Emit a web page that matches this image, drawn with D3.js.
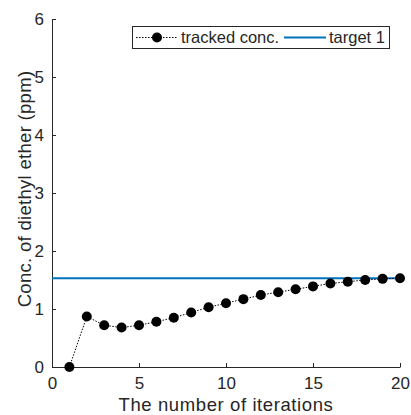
<!DOCTYPE html>
<html>
<head>
<meta charset="utf-8">
<script src="https://cdn.jsdelivr.net/npm/d3@7"></script>
<style>
  body { margin: 0; background: #fff; }
  svg text { font-family: "Liberation Sans", Arial, sans-serif; fill: #262626; }
</style>
</head>
<body>
<svg id="chart" width="411" height="415"></svg>
<script>
// Tracked concentration per iteration
const iterations = [1, 2, 3, 4, 5, 6, 7, 8, 9, 10, 11, 12, 13, 14, 15, 16, 17, 18, 19, 20];
const trackedConc = [0, 0.87, 0.72, 0.68, 0.72, 0.78, 0.85, 0.94, 1.03, 1.10,
                     1.17, 1.24, 1.29, 1.34, 1.39, 1.44, 1.47, 1.50, 1.52, 1.53];
const targetValue = 1.53;
const xTicks = [0, 5, 10, 15, 20];
const yTicks = [0, 1, 2, 3, 4, 5, 6];
const legendLabels = ["tracked conc.", "target 1"];

const svg = d3.select("#chart");
const margin = { left: 52, right: 11, top: 19, bottom: 48 };
const W = 411, H = 415;
const fontFamily = '"Liberation Sans", Arial, sans-serif';

const x = d3.scaleLinear().domain([0, 20]).range([margin.left, W - margin.right]);
const y = d3.scaleLinear().domain([0, 6]).range([H - margin.bottom, margin.top]);

const axisColor = "#262626";
const fmt = d3.format("d");

// Axes with inward ticks
const xAxis = d3.axisBottom(x).tickValues(xTicks).tickFormat(fmt)
  .tickSizeInner(-4).tickSizeOuter(0).tickPadding(10);
const yAxis = d3.axisLeft(y).tickValues(yTicks).tickFormat(fmt)
  .tickSizeInner(-4).tickSizeOuter(0).tickPadding(8);

const gx = svg.append("g").attr("transform", `translate(0,${y(0)})`).call(xAxis);
const gy = svg.append("g").attr("transform", `translate(${x(0)},0)`).call(yAxis);
[gx, gy].forEach(g => {
  g.select(".domain").attr("stroke", axisColor).attr("stroke-width", 1);
  g.selectAll(".tick line").attr("stroke", axisColor);
  g.selectAll(".tick text").attr("font-size", 17).attr("fill", axisColor)
    .style("font-family", fontFamily);
});

// Axis titles
svg.append("text")
  .attr("x", (x(0) + x(20)) / 2).attr("y", 411)
  .attr("text-anchor", "middle").attr("font-size", 18.5)
  .attr("letter-spacing", 0.6)
  .text("The number of iterations");
svg.append("text")
  .attr("transform", `translate(31,189) rotate(-90)`)
  .attr("text-anchor", "middle").attr("font-size", 18.5)
  .attr("letter-spacing", 0.3)
  .text("Conc. of diethyl ether (ppm)");

// Target line
const blue = "#0072BD";
svg.append("line")
  .attr("x1", x(0)).attr("x2", x(20))
  .attr("y1", y(targetValue)).attr("y2", y(targetValue))
  .attr("stroke", blue).attr("stroke-width", 2);

// Tracked series
const pts = iterations.map((d, i) => [d, trackedConc[i]]);
svg.append("path")
  .datum(pts)
  .attr("fill", "none").attr("stroke", "#000").attr("stroke-width", 1)
  .attr("stroke-dasharray", "1.5,1.5")
  .attr("d", d3.line().x(d => x(d[0])).y(d => y(d[1])));
svg.append("g").selectAll("circle").data(pts).join("circle")
  .attr("cx", d => x(d[0])).attr("cy", d => y(d[1])).attr("r", 5)
  .attr("fill", "#000");

// Legend
const lg = svg.append("g");
lg.append("rect").attr("x", 132.5).attr("y", 26.5).attr("width", 257).attr("height", 22)
  .attr("fill", "#fff").attr("stroke", axisColor).attr("stroke-width", 1);
const ly = 37.5;
lg.append("line").attr("x1", 136).attr("x2", 178).attr("y1", ly).attr("y2", ly)
  .attr("stroke", "#000").attr("stroke-width", 1).attr("stroke-dasharray", "1.5,1.5");
lg.append("circle").attr("cx", 157).attr("cy", ly).attr("r", 5).attr("fill", "#000");
lg.append("text").attr("x", 181).attr("y", ly).attr("dy", "0.35em").attr("font-size", 16.5)
  .text(legendLabels[0]);
lg.append("line").attr("x1", 284).attr("x2", 326).attr("y1", ly).attr("y2", ly)
  .attr("stroke", blue).attr("stroke-width", 2);
lg.append("text").attr("x", 329).attr("y", ly).attr("dy", "0.35em").attr("font-size", 16.5)
  .text(legendLabels[1]);
</script>
</body>
</html>
